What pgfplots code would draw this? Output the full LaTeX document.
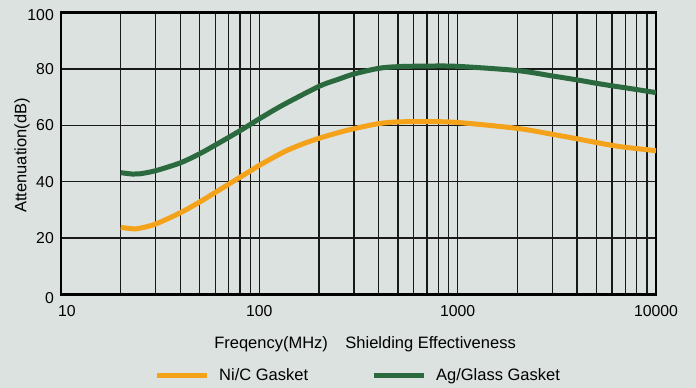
\documentclass[border=0pt]{standalone}
\usepackage{fontspec}
\setmainfont{Liberation Sans}
\usepackage{pgfplots}
\pgfplotsset{compat=1.18}
\definecolor{bg}{HTML}{DCE2E0}
\definecolor{nic}{HTML}{F5A21B}
\definecolor{agg}{HTML}{2A6A3E}
\begin{document}
\begin{tikzpicture}
\path[fill=bg] (0,0) rectangle (696bp,388bp);
\begin{axis}[
  at={(61bp,93.5bp)}, anchor=south west,
  width=595bp, height=282bp, scale only axis,
  xmode=log, xmin=10, xmax=10000, ymin=0, ymax=100,
  log basis x=10,
  xtick={10,100,1000,10000},
  xticklabels={\hspace{12bp}10,100,1000,10000},
  minor xtick={20,30,40,50,60,70,80,90,200,300,400,500,600,700,800,900,2000,3000,4000,5000,6000,7000,8000,9000},
  ytick={0,20,40,60,80,100},
  yticklabels={\raisebox{-3.5bp}[\height][\depth]{0},20,40,60,80,\raisebox{-3bp}[\height][\depth]{100}},
  minor ytick={},
  grid=both,
  major grid style={black!90, line width=1.3bp},
  minor grid style={black!90, line width=1.3bp},
  major tick length=0pt, minor tick length=0pt,
  axis line style={black, line width=2.5bp},
  axis background/.style={fill=bg},
  /pgf/number format/assume math mode=true,
  tick label style={font=\fontsize{15.8bp}{18bp}\selectfont, inner sep=0pt},
  yticklabel style={anchor=east, xshift=-7bp},
  xticklabel style={anchor=north, yshift=-10.5bp},
  label style={font=\fontsize{16.5bp}{19bp}\selectfont},
  xlabel={Freqency(MHz)\hspace{17.5bp}Shielding Effectiveness},
  xlabel style={at={(axis description cs:0.511,-0.1755)}, anchor=center, inner sep=0pt},
  ylabel={Attenuation(dB)},
  ylabel style={at={(axis description cs:-0.0655,0.493)}, anchor=center, inner sep=0pt},
  legend columns=2,
  legend style={draw=none, fill=none, inner sep=0pt, anchor=west,
    at={(axis description cs:0.1563,-0.2855)},
    font=\fontsize{16.5bp}{19bp}\selectfont,
    nodes={inner sep=0pt},
    /tikz/every odd column/.append style={column sep=10bp},
    /tikz/every even column/.append style={column sep=63bp}},
  legend image code/.code={\draw[#1, line width=5bp] (0bp,0bp) -- (50bp,0bp);},
]
\addplot[nic, line width=5bp, smooth, tension=0.5] coordinates {
(20,23.8)(23,23.3)(25,23.5)(30,25)(40,29)(50,32.8)(60,36.2)(70,39.1)(80,41.6)(90,43.8)(100,45.8)
(120,48.9)(140,51.3)(170,53.7)(200,55.4)(250,57.4)(300,58.8)(400,60.6)(500,61.2)(700,61.3)(1000,61)
(2000,58.9)(3000,56.8)(4000,55.2)(5000,53.9)(6000,52.9)(7000,52.2)(10000,51)};
\addlegendentry{Ni/C Gasket}
\addplot[agg, line width=5bp, smooth, tension=0.5] coordinates {
(20,43.2)(23,42.7)(25,42.8)(30,43.9)(40,46.7)(50,49.9)(60,53.0)(70,55.7)(80,58.1)(90,60.3)(100,62.3)
(130,67.0)(200,73.8)(250,76.3)(300,78.2)(400,80.2)(500,80.8)(700,81)(1000,80.9)
(2000,79.4)(3000,77.5)(4000,76.1)(5000,74.9)(6000,74.0)(7000,73.3)(10000,71.6)};
\addlegendentry{Ag/Glass Gasket}
\end{axis}
\end{tikzpicture}
\end{document}
